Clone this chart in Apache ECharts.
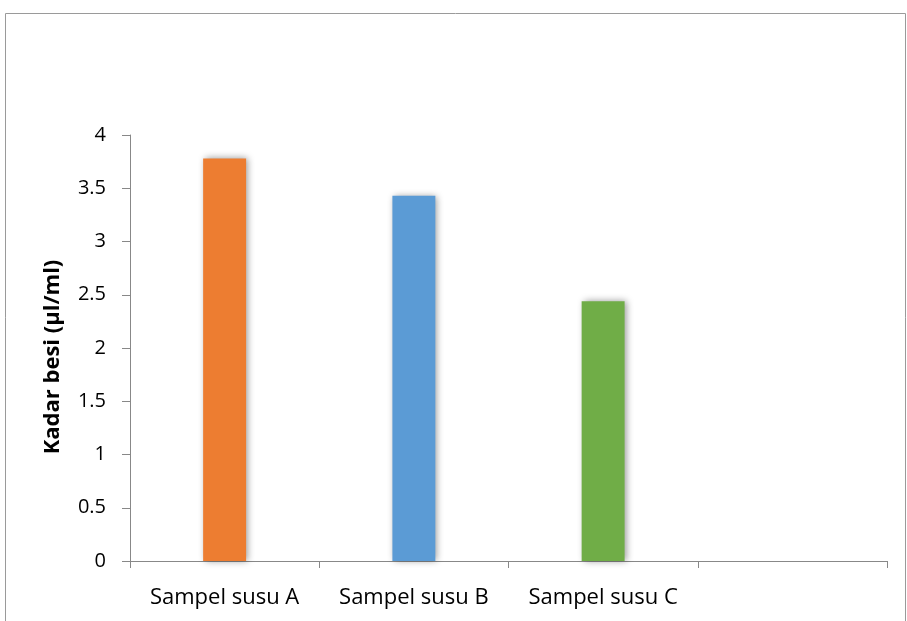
<!DOCTYPE html>
<html>
<head>
<meta charset="utf-8">
<script src="https://cdn.jsdelivr.net/npm/echarts@6/dist/echarts.min.js"></script>
<style>
html,body{margin:0;padding:0;background:#fff;}
#c{width:907px;height:621px;}
</style>
</head>
<body>
<div id="c"></div>
<script>
const categories = ['Sampel susu A', 'Sampel susu B', 'Sampel susu C', ''];
const values = [3.78, 3.43, 2.44, null];
const barColors = ['#ED7D31', '#5B9BD5', '#70AD47', '#A5A5A5'];
const yName = 'Kadar besi (µl/ml)';

const chart = echarts.init(document.getElementById('c'));
chart.setOption({
  animation: false,
  graphic: [{
    type: 'rect',
    shape: { x: 5.5, y: 13.5, width: 900, height: 640 },
    style: { fill: 'none', stroke: '#9a9a9a', lineWidth: 1 }
  }],
  grid: { left: 130, right: 20, top: 135, bottom: 60 },
  xAxis: {
    type: 'category',
    data: categories,
    boundaryGap: true,
    axisLine: { lineStyle: { color: '#888888', width: 1 } },
    axisTick: { show: true, length: 7, lineStyle: { color: '#888888' } },
    axisLabel: { color: '#000', fontSize: 22, fontFamily: 'Open Sans', margin: 26, interval: 0 }
  },
  yAxis: {
    type: 'value',
    min: 0, max: 4, interval: 0.5,
    name: yName,
    nameLocation: 'middle',
    nameGap: 66,
    nameRotate: 90,
    nameTextStyle: { color: '#000', fontSize: 22, fontWeight: 'bold', fontFamily: 'Open Sans', padding: [0, 18, 0, 0] },
    axisLine: { show: true, lineStyle: { color: '#888888', width: 1 } },
    axisTick: { show: true, length: 8, lineStyle: { color: '#888888' } },
    splitLine: { show: false },
    axisLabel: { color: '#000', fontSize: 20, fontFamily: 'Open Sans', margin: 24 }
  },
  series: [{
    type: 'bar',
    barWidth: '22.7%',
    data: values.map((v, i) => ({
      value: v,
      itemStyle: {
        color: barColors[i],
        shadowBlur: 7,
        shadowOffsetX: 2,
        shadowOffsetY: 0,
        shadowColor: 'rgba(0,0,0,0.4)'
      }
    }))
  }]
});
</script>
</body>
</html>
